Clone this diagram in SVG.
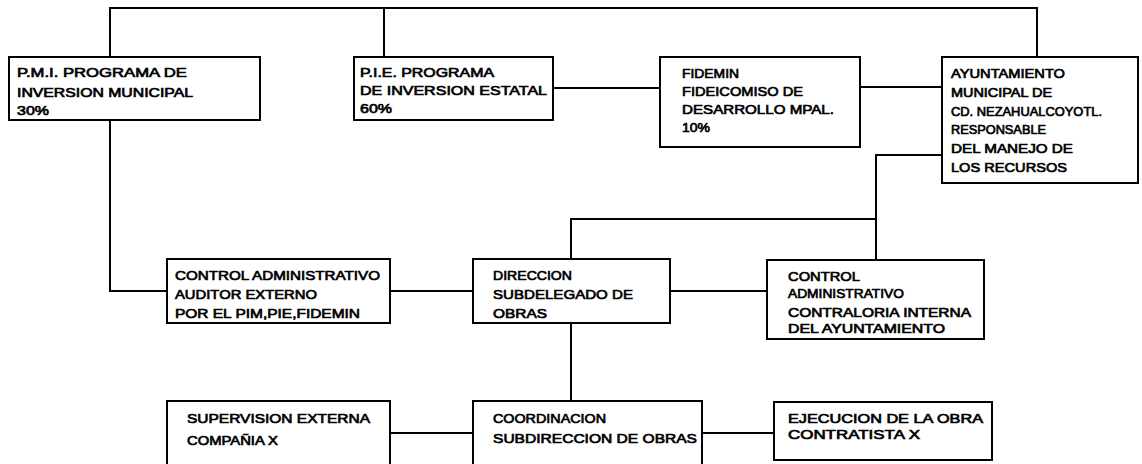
<svg xmlns="http://www.w3.org/2000/svg" width="1142" height="464" viewBox="0 0 1142 464">
<style>
.box{fill:#fff;stroke:#000;stroke-width:2}
.ln{fill:none;stroke:#000;stroke-width:2}
text{font-family:"Liberation Sans",Arial,sans-serif;font-size:13.5px;font-weight:normal;fill:#000;stroke:#000;stroke-width:0.7px}
</style>
<rect width="1142" height="464" fill="#fff"/>
<g id="connectors">
<polyline class="ln" points="110,57 110,8 1037,8 1037,57"/>
<line class="ln" x1="384" y1="8" x2="384" y2="57"/>
<line class="ln" x1="553" y1="88" x2="660" y2="88"/>
<line class="ln" x1="860" y1="87" x2="942" y2="87"/>
<polyline class="ln" points="942,155 876,155 876,260"/>
<polyline class="ln" points="876,219 571,219 571,259"/>
<polyline class="ln" points="110,120 110,291 167,291"/>
<line class="ln" x1="390" y1="291" x2="473" y2="291"/>
<line class="ln" x1="670" y1="291" x2="767" y2="291"/>
<line class="ln" x1="571" y1="323" x2="571" y2="401"/>
<line class="ln" x1="390" y1="433" x2="473" y2="433"/>
<line class="ln" x1="702" y1="433" x2="774" y2="433"/>
</g>
<g id="pmi">
<rect class="box" x="9" y="57" width="251" height="63"/>
<text x="17" y="77" textLength="170" lengthAdjust="spacingAndGlyphs">P.M.I. PROGRAMA DE</text>
<text x="17" y="97" textLength="176" lengthAdjust="spacingAndGlyphs">INVERSION MUNICIPAL</text>
<text x="17" y="115" textLength="32" lengthAdjust="spacingAndGlyphs">30%</text>
</g>
<g id="pie">
<rect class="box" x="354" y="57" width="199" height="63"/>
<text x="360" y="77" textLength="134" lengthAdjust="spacingAndGlyphs">P.I.E. PROGRAMA</text>
<text x="360" y="95" textLength="187" lengthAdjust="spacingAndGlyphs">DE INVERSION ESTATAL</text>
<text x="360" y="113" textLength="32" lengthAdjust="spacingAndGlyphs">60%</text>
</g>
<g id="fidemin">
<rect class="box" x="660" y="57" width="200" height="90"/>
<text x="682" y="78" textLength="57" lengthAdjust="spacingAndGlyphs">FIDEMIN</text>
<text x="682" y="96" textLength="121" lengthAdjust="spacingAndGlyphs">FIDEICOMISO DE</text>
<text x="682" y="114" textLength="152" lengthAdjust="spacingAndGlyphs">DESARROLLO MPAL.</text>
<text x="682" y="132" textLength="28" lengthAdjust="spacingAndGlyphs">10%</text>
</g>
<g id="ayuntamiento">
<rect class="box" x="942" y="57" width="196" height="126"/>
<text x="951" y="78" textLength="114" lengthAdjust="spacingAndGlyphs">AYUNTAMIENTO</text>
<text x="951" y="97" textLength="101" lengthAdjust="spacingAndGlyphs">MUNICIPAL DE</text>
<text x="951" y="116" textLength="151" lengthAdjust="spacingAndGlyphs">CD. NEZAHUALCOYOTL.</text>
<text x="951" y="134" textLength="95" lengthAdjust="spacingAndGlyphs">RESPONSABLE</text>
<text x="951" y="153" textLength="122" lengthAdjust="spacingAndGlyphs">DEL MANEJO DE</text>
<text x="951" y="172" textLength="116" lengthAdjust="spacingAndGlyphs">LOS RECURSOS</text>
</g>
<g id="auditor">
<rect class="box" x="167" y="259" width="223" height="64"/>
<text x="175" y="280" textLength="205" lengthAdjust="spacingAndGlyphs">CONTROL ADMINISTRATIVO</text>
<text x="175" y="299" textLength="142" lengthAdjust="spacingAndGlyphs">AUDITOR EXTERNO</text>
<text x="175" y="318" textLength="185" lengthAdjust="spacingAndGlyphs">POR EL PIM,PIE,FIDEMIN</text>
</g>
<g id="direccion">
<rect class="box" x="473" y="259" width="197" height="64"/>
<text x="493" y="280" textLength="79" lengthAdjust="spacingAndGlyphs">DIRECCION</text>
<text x="493" y="299" textLength="140" lengthAdjust="spacingAndGlyphs">SUBDELEGADO DE</text>
<text x="493" y="318" textLength="54" lengthAdjust="spacingAndGlyphs">OBRAS</text>
</g>
<g id="contraloria">
<rect class="box" x="767" y="260" width="217" height="79"/>
<text x="788" y="281" textLength="72" lengthAdjust="spacingAndGlyphs">CONTROL</text>
<text x="788" y="298" textLength="116" lengthAdjust="spacingAndGlyphs">ADMINISTRATIVO</text>
<text x="788" y="317" textLength="183" lengthAdjust="spacingAndGlyphs">CONTRALORIA INTERNA</text>
<text x="788" y="333" textLength="157" lengthAdjust="spacingAndGlyphs">DEL AYUNTAMIENTO</text>
</g>
<g id="supervision">
<rect class="box" x="167" y="401" width="223" height="80"/>
<text x="187" y="423" textLength="183" lengthAdjust="spacingAndGlyphs">SUPERVISION EXTERNA</text>
<text x="187" y="445" textLength="91" lengthAdjust="spacingAndGlyphs">COMPAÑIA X</text>
</g>
<g id="coordinacion">
<rect class="box" x="473" y="401" width="229" height="80"/>
<text x="493" y="423" textLength="113" lengthAdjust="spacingAndGlyphs">COORDINACION</text>
<text x="493" y="443" textLength="204" lengthAdjust="spacingAndGlyphs">SUBDIRECCION DE OBRAS</text>
</g>
<g id="ejecucion">
<rect class="box" x="774" y="402" width="218" height="58"/>
<text x="788" y="423" textLength="195" lengthAdjust="spacingAndGlyphs">EJECUCION DE LA OBRA</text>
<text x="788" y="439" textLength="132" lengthAdjust="spacingAndGlyphs">CONTRATISTA X</text>
</g>
</svg>
